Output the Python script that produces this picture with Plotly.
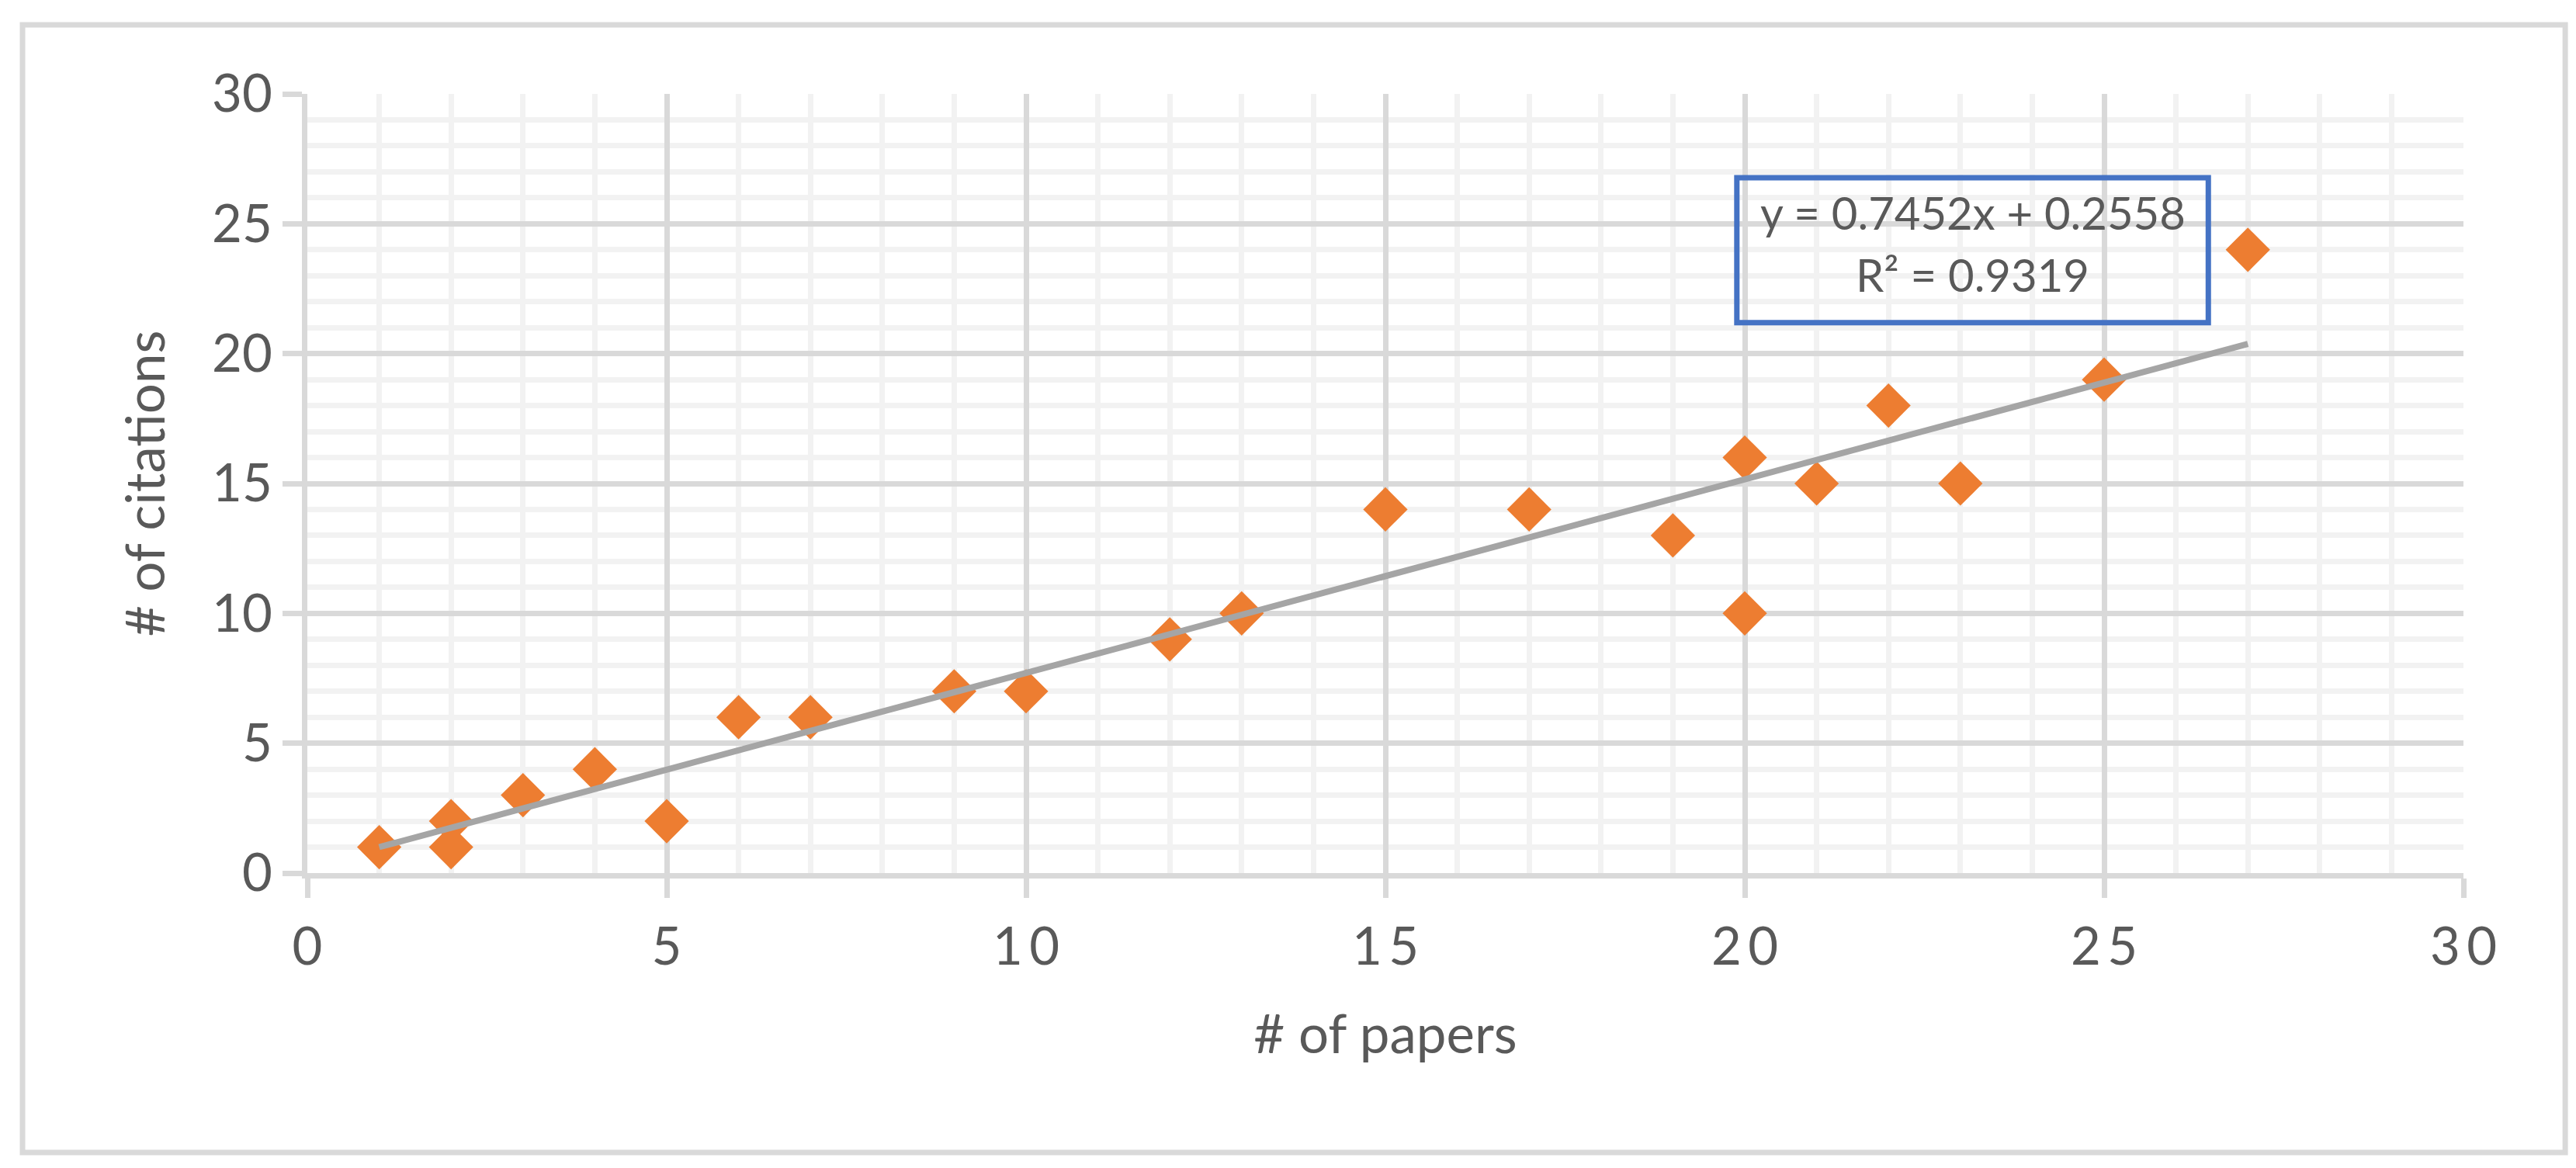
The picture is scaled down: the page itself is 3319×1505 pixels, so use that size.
import plotly.graph_objects as go

# papers vs citations
papers = [1, 2, 2, 3, 4, 5, 6, 7, 9, 10, 12, 13, 15, 17, 19, 20, 20, 21, 22, 23, 25, 27]
citations = [1, 2, 1, 3, 4, 2, 6, 6, 7, 7, 9, 10, 14, 14, 13, 16, 10, 15, 18, 15, 19, 24]

# linear trendline as printed on the chart
slope = 0.7452
intercept = 0.2558
r_squared = 0.9319

tick_vals = [0, 5, 10, 15, 20, 25, 30]
x_tick_text = ["0", "5", "1\u20090", "1\u20095", "2\u20090", "2\u20095", "3\u20090"]
y_tick_text = ["0", "5", "10", "15", "20", "25", "30"]

grey_text = "#595959"
font = "Lato, sans-serif"

trend_x = [min(papers), max(papers)]
trend_y = [slope * v + intercept for v in trend_x]

fig = go.Figure()
fig.add_trace(go.Scatter(x=papers, y=citations, mode="markers",
                         marker=dict(symbol="diamond", size=44, color="#ed7d31",
                                     line=dict(width=0)),
                         showlegend=False))
fig.add_trace(go.Scatter(x=trend_x, y=trend_y, mode="lines",
                         line=dict(color="#a5a5a5", width=8),
                         showlegend=False))

axis_common = dict(
    range=[0, 30],
    tickvals=tick_vals,
    showgrid=True, gridcolor="#d9d9d9", gridwidth=6.5,
    minor=dict(dtick=1, showgrid=True, gridcolor="#f2f2f2", gridwidth=6.5, ticks=""),
    showline=True, linecolor="#d9d9d9", linewidth=6.5,
    ticks="outside", ticklen=25, tickwidth=6.5, tickcolor="#d9d9d9",
    zeroline=False,
    tickfont=dict(family=font, size=67, color=grey_text),
)

fig.update_xaxes(**axis_common, ticktext=x_tick_text, ticklabelstandoff=6,
                 title=dict(text="# of papers", font=dict(family=font, size=69, color=grey_text),
                            standoff=55))
fig.update_yaxes(**axis_common, ticktext=y_tick_text,
                 title=dict(text="# of citations", font=dict(family=font, size=69, color=grey_text),
                            standoff=40))

# outer chart border
fig.add_shape(type="rect", xref="paper", yref="paper",
              x0=-0.1321, x1=1.0472, y0=-0.3586, y1=1.0886,
              line=dict(color="#d9d9d9", width=7), fillcolor="rgba(0,0,0,0)", layer="below")

# equation box
fig.add_shape(type="rect", xref="x", yref="y",
              x0=19.89, x1=26.45, y0=21.19, y1=26.77,
              line=dict(color="#4472c4", width=7), fillcolor="rgba(0,0,0,0)")
fig.add_annotation(x=23.17, y=25.45, xref="x", yref="y", showarrow=False,
                   text=f"y = {slope}x + {intercept}",
                   font=dict(family=font, size=58, color=grey_text))
fig.add_annotation(x=23.17, y=23.05, xref="x", yref="y", showarrow=False,
                   text=f"R² = {r_squared}",
                   font=dict(family=font, size=58, color=grey_text))

fig.update_layout(
    width=3319, height=1505,
    margin=dict(l=388, r=153, t=113, b=388, autoexpand=False),
    paper_bgcolor="white", plot_bgcolor="white",
    showlegend=False,
)

fig.write_html("out.html")
